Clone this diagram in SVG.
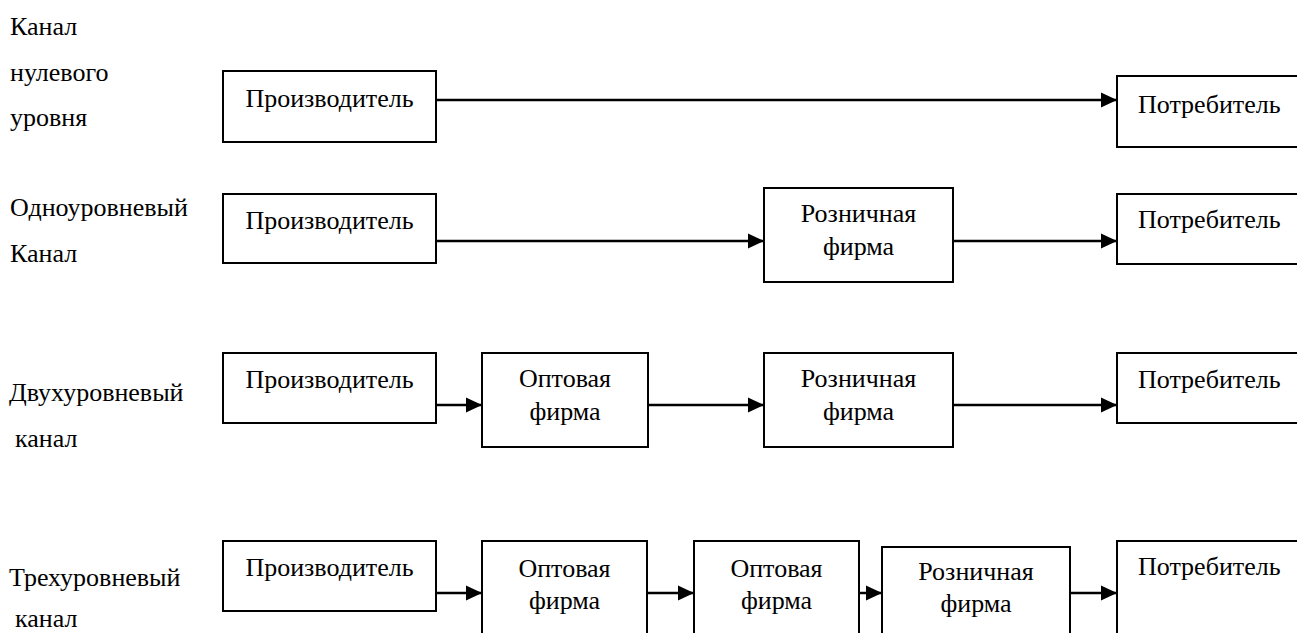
<svg xmlns="http://www.w3.org/2000/svg" width="1297" height="633" viewBox="0 0 1297 633" font-family="Times New Roman, Liberation Serif, Tinos, DejaVu Serif, serif" font-size="26">
<style>
  .t { font-family: "Times New Roman", "Liberation Serif", "DejaVu Serif", serif; font-size: 26px; fill: #000; }
  .c { text-anchor: middle; }
  .box { fill: #fff; stroke: #000; stroke-width: 2; }
  .conn { stroke: #000; stroke-width: 2.5; fill: none; marker-end: url(#ah); }
</style>
<defs>
  <marker id="ah" markerUnits="userSpaceOnUse" markerWidth="17" markerHeight="17" viewBox="0 0 17 17" refX="16" refY="8.5" orient="auto">
    <path d="M0,1 L16,8.5 L0,16 Z" fill="#000"/>
  </marker>
</defs>
<rect width="1297" height="633" fill="#fff"/>

<g id="labels" class="t">
  <text x="10" y="35">Канал</text>
  <text x="10" y="81">нулевого</text>
  <text x="10" y="126">уровня</text>
  <text x="10" y="216">Одноуровневый</text>
  <text x="10" y="262">Канал</text>
  <text x="9" y="401">Двухуровневый</text>
  <text x="15" y="447">канал</text>
  <text x="9" y="586">Трехуровневый</text>
  <text x="15" y="627">канал</text>
</g>

<g id="connectors">
  <line class="conn" x1="436" y1="100" x2="1117" y2="100"/>
  <line class="conn" x1="436" y1="241" x2="764" y2="241"/>
  <line class="conn" x1="953" y1="241" x2="1117" y2="241"/>
  <line class="conn" x1="436" y1="405" x2="482" y2="405"/>
  <line class="conn" x1="648" y1="405" x2="764" y2="405"/>
  <line class="conn" x1="953" y1="405" x2="1117" y2="405"/>
  <line class="conn" x1="436" y1="593" x2="482" y2="593"/>
  <line class="conn" x1="647" y1="593" x2="694" y2="593"/>
  <line class="conn" x1="859" y1="593" x2="882" y2="593"/>
  <line class="conn" x1="1070" y1="593" x2="1117" y2="593"/>
</g>

<g id="r1-producer" class="t"><rect class="box" x="223" y="71" width="213" height="71"/><text class="c" x="329.5" y="107">Производитель</text></g>
<g id="r1-consumer" class="t"><rect class="box" x="1117" y="76" width="200" height="71"/><text x="1138" y="113">Потребитель</text></g>

<g id="r2-producer" class="t"><rect class="box" x="223" y="194" width="213" height="69"/><text class="c" x="329.5" y="229">Производитель</text></g>
<g id="r2-retail" class="t"><rect class="box" x="764" y="188" width="189" height="94"/><text class="c" x="858.5" y="222">Розничная</text><text class="c" x="858.5" y="255">фирма</text></g>
<g id="r2-consumer" class="t"><rect class="box" x="1117" y="194" width="200" height="70"/><text x="1138" y="228">Потребитель</text></g>

<g id="r3-producer" class="t"><rect class="box" x="223" y="353" width="213" height="70"/><text class="c" x="329.5" y="388">Производитель</text></g>
<g id="r3-wholesale" class="t"><rect class="box" x="482" y="353" width="166" height="94"/><text class="c" x="565" y="387">Оптовая</text><text class="c" x="565" y="420">фирма</text></g>
<g id="r3-retail" class="t"><rect class="box" x="764" y="353" width="189" height="94"/><text class="c" x="858.5" y="387">Розничная</text><text class="c" x="858.5" y="420">фирма</text></g>
<g id="r3-consumer" class="t"><rect class="box" x="1117" y="353" width="200" height="70"/><text x="1138" y="388">Потребитель</text></g>

<g id="r4-producer" class="t"><rect class="box" x="223" y="541" width="213" height="70"/><text class="c" x="329.5" y="576">Производитель</text></g>
<g id="r4-wholesale1" class="t"><rect class="box" x="482" y="541" width="165" height="100"/><text class="c" x="564.5" y="577">Оптовая</text><text class="c" x="564.5" y="609">фирма</text></g>
<g id="r4-wholesale2" class="t"><rect class="box" x="694" y="541" width="165" height="100"/><text class="c" x="776.5" y="577">Оптовая</text><text class="c" x="776.5" y="609">фирма</text></g>
<g id="r4-retail" class="t"><rect class="box" x="882" y="547" width="188" height="100"/><text class="c" x="976" y="580">Розничная</text><text class="c" x="976" y="612">фирма</text></g>
<g id="r4-consumer" class="t"><rect class="box" x="1117" y="541" width="200" height="100"/><text x="1138" y="575">Потребитель</text></g>
</svg>
